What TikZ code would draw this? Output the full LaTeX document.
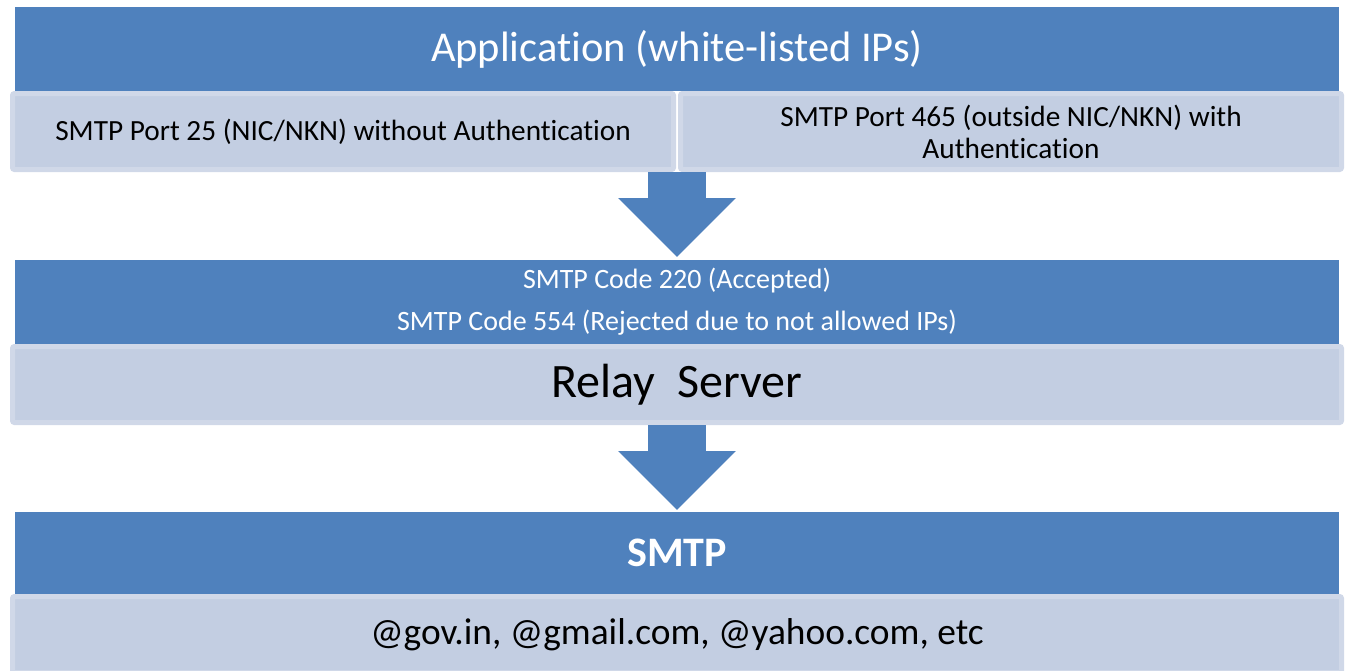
\documentclass[tikz,border=0pt]{standalone}
\usepackage{fontspec}
\setmainfont[Ligatures=NoCommon]{Carlito}
\usetikzlibrary{arrows.meta,positioning,calc}
\definecolor{hdrblue}{HTML}{4F81BD}
\definecolor{bandfill}{HTML}{C3CEE2}
\definecolor{bandedge}{HTML}{D0D8E8}
\tikzset{
  header/.style={fill=hdrblue, text=white, minimum width=1324pt, inner sep=0pt, outer sep=0pt, align=center},
  band/.style={draw=bandedge, line width=5pt, fill=bandfill, rounded corners=2pt, minimum height=76pt, inner sep=0pt, outer sep=0pt, align=center},
  flow/.style={hdrblue, line width=58pt, -{Triangle[length=59pt, width=114pt]}}
}
\begin{document}
\begin{tikzpicture}[x=1pt, y=-1pt]
  \clip (0,0) rectangle (1348,670);
  \fill[white] (0,0) rectangle (1348,670);

  \node[header, minimum height=84pt, font=\fontsize{42.5}{48}\selectfont] (app) at (677,49) {Application (white-listed IPs)};
  \node[band, minimum width=661pt, font=\fontsize{29.3}{32}\selectfont] (port25) at (343,131.5) {SMTP Port 25 (NIC/NKN) without Authentication};
  \node[band, minimum width=661pt, font=\fontsize{29.3}{32}\selectfont] (port465) at (1011,131.5) {SMTP Port 465 (outside NIC/NKN) with\\Authentication};

  \node[header, minimum height=84pt, font=\fontsize{28}{42}\selectfont] (codes) at (677,302) {SMTP Code 220 (Accepted)\\SMTP Code 554 (Rejected due to not allowed IPs)};
  \node[band, minimum width=1329pt, below=2.5pt of codes, font=\fontsize{48}{50}\selectfont] (relay) {Relay\ \ Server};

  \node[header, minimum height=82pt, font=\bfseries\fontsize{42}{48}\selectfont] (smtp) at (677,553) {SMTP};
  \node[band, minimum width=1329pt, below=2.5pt of smtp, font=\fontsize{37.4}{44}\selectfont] (mail) {@gov.in, @gmail.com, @yahoo.com, etc};

  \draw[flow] ($(app.south |- port25.south)+(0,2.5)$) -- ($(codes.north)+(0,-3)$);
  \draw[flow] ($(relay.south)+(0,2.5)$) -- ($(smtp.north)+(0,-2)$);
\end{tikzpicture}
\end{document}
